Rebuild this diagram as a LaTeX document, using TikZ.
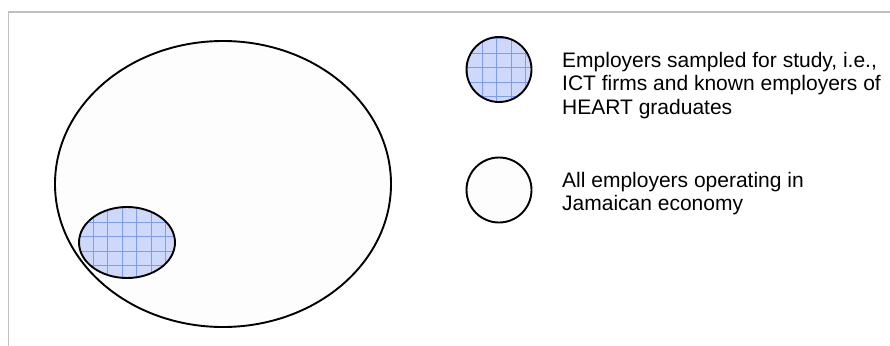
\documentclass[tikz,border=0pt]{standalone}
\usepackage{fontspec}
\setmainfont{Liberation Sans}
\definecolor{framegray}{RGB}{192,192,192}
\definecolor{sampfill}{RGB}{206,216,250}
\definecolor{gridblue}{RGB}{125,155,250}
\definecolor{allfill}{RGB}{253,253,253}
\tikzset{
  frameline/.style={draw=framegray, line width=1.8pt},
  setline/.style={draw=black, line width=1.9pt},
  gridline/.style={draw=gridblue, line width=0.6pt},
  legendtext/.style={anchor=base west, inner sep=0pt, font=\fontsize{21}{23.5}\selectfont, text=black},
}
\begin{document}
\begin{tikzpicture}[x=1pt,y=-1pt]
\useasboundingbox (0,0) rectangle (890,345);
\fill[white] (0,0) rectangle (890,345);
% frame
\draw[frameline] (8.5,346) -- (8.5,12) -- (891,12);
% big ellipse: all employers
\fill[allfill] (223,184) ellipse [x radius=168, y radius=143];
\draw[setline] (223,184) ellipse [x radius=168, y radius=143];
% small ellipse: sampled employers
\fill[sampfill] (127,242.5) ellipse [x radius=48, y radius=35.5];
\begin{scope}
  \clip (127,242.5) ellipse [x radius=48, y radius=35.5];
  \foreach \gx in {78.5,93,107.5,122,136.5,151,165.5} {
    \draw[gridline] (\gx,200) -- (\gx,285);
  }
  \foreach \gy in {207.5,222,236.5,251,265.5} {
    \draw[gridline] (75,\gy) -- (180,\gy);
  }
\end{scope}
\draw[setline] (127,242.5) ellipse [x radius=48, y radius=35.5];
% legend circle 1
\fill[sampfill] (499,69.5) circle [radius=32.5];
\begin{scope}
  \clip (499,69.5) circle [radius=32.5];
  \foreach \gx in {467.5,482,496.5,511,525.5} {
    \draw[gridline] (\gx,35) -- (\gx,105);
  }
  \foreach \gy in {38.5,53,67.5,82,96.5} {
    \draw[gridline] (464,\gy) -- (534,\gy);
  }
\end{scope}
\draw[setline] (499,69.5) circle [radius=32.5];
% legend circle 2
\fill[allfill] (499,190) circle [radius=32.5];
\draw[setline] (499,190) circle [radius=32.5];
% legend texts
\node[legendtext] (t1) at (562,67) {Employers sampled for study, i.e.,};
\node[legendtext] (t2) at (562,90.5) {ICT firms and known employers of};
\node[legendtext] (t3) at (562,114) {HEART graduates};
\node[legendtext] (t4) at (562,187) {All employers operating in};
\node[legendtext] (t5) at (562,210.5) {Jamaican economy};
\end{tikzpicture}
\end{document}
